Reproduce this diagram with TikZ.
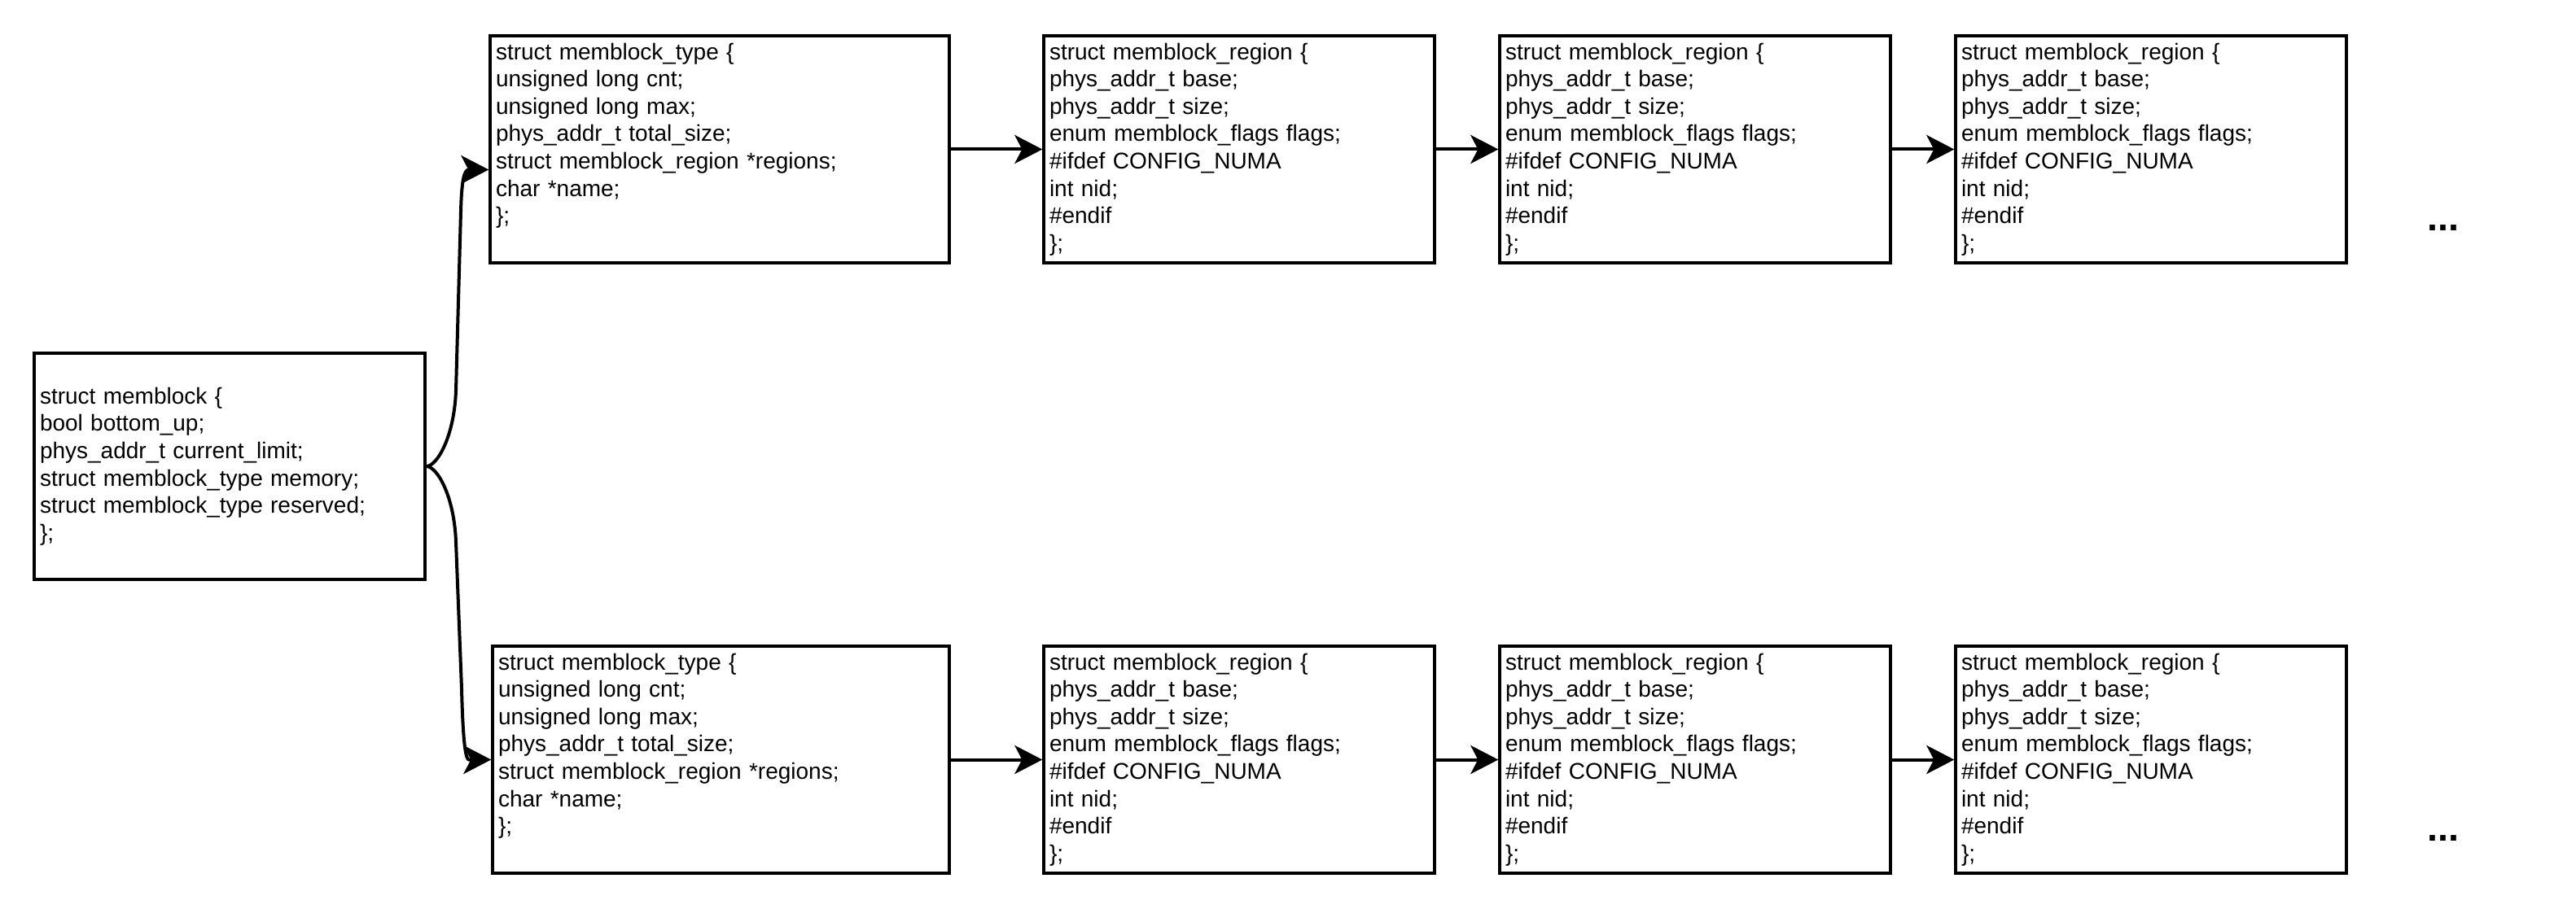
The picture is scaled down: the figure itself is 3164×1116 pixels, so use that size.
\documentclass[tikz,border=0pt]{standalone}
\usepackage{fontspec}
\setmainfont{Liberation Sans}
\usetikzlibrary{arrows.meta,calc}

\newcommand{\regionfields}{struct memblock\_region \{\\
phys\_addr\_t base;\\
phys\_addr\_t size;\\
enum memblock\_flags flags;\\
\#ifdef CONFIG\_NUMA\\
int nid;\\
\#endif\\
\};}

% last line left empty, as in the drawing
\newcommand{\typefields}{struct memblock\_type \{\\
unsigned long cnt;\\
unsigned long max;\\
phys\_addr\_t total\_size;\\
struct memblock\_region *regions;\\
char *name;\\
\};\\
\vphantom{\};}}

\begin{document}
\begin{tikzpicture}[x=0.5pt, y=0.5pt,
    structbox/.style={draw, line width=1.7pt, align=left, inner xsep=3.5pt, inner ysep=0pt,
        font=\fontsize{14pt}{16.8pt}\selectfont},
    mainbox/.style={structbox, minimum width=240pt, minimum height=139pt, text width=233pt},
    typebox/.style={structbox, minimum width=282pt, minimum height=139.5pt, text width=275pt},
    regbox/.style={structbox, minimum width=240pt, minimum height=139.5pt, text width=233pt},
    link/.style={line width=2pt, -{Stealth[length=17pt, width=17.5pt, inset=4.5pt]}},
    more/.style={font=\fontsize{23.4pt}{28pt}\selectfont\bfseries, inner sep=0pt, anchor=base}]

    \useasboundingbox (0,0) rectangle (3164,1116);

    % struct memblock
    \node[mainbox] (mb) at (282,543) {struct memblock \{\\
        bool bottom\_up;\\
        phys\_addr\_t current\_limit;\\
        struct memblock\_type memory;\\
        struct memblock\_type reserved;\\
        \};};

    % memory: type and its regions
    \node[typebox] (memtype) at (884,932.5) {\typefields};
    \node[regbox] (memreg1) at (1522,932.5) {\regionfields};
    \node[regbox] (memreg2) at (2082,932.5) {\regionfields};
    \node[regbox] (memreg3) at (2642,932.5) {\regionfields};
    \node[more] (memmore) at (3001,832.7) {...};

    % reserved: type and its regions
    \node[typebox, minimum width=280.5pt, text width=273.5pt] (restype) at (885.5,182.5) {\typefields};
    \node[regbox] (resreg1) at (1522,182.5) {\regionfields};
    \node[regbox] (resreg2) at (2082,182.5) {\regionfields};
    \node[regbox] (resreg3) at (2642,182.5) {\regionfields};
    \node[more] (resmore) at (3001,82.7) {...};

    % memblock -> memory / reserved
    \draw[link] (mb.east) .. controls (537,543) and (558,580) .. (560,636)
        -- (566,856) .. controls (567,895) and (570,907.5) .. (576,907.5)
        -- ($(memtype.west)+(0,-25)$);
    \draw[link] (mb.east) .. controls (537,543) and (558,506) .. (560,450)
        -- (567,270) .. controls (568,230) and (570,182.5) .. (576,182.5)
        -- (restype.west);

    % region chains
    \draw[link] (memtype.east) -- (memreg1.west);
    \draw[link] (memreg1.east) -- (memreg2.west);
    \draw[link] (memreg2.east) -- (memreg3.west);
    \draw[link] (restype.east) -- (resreg1.west);
    \draw[link] (resreg1.east) -- (resreg2.west);
    \draw[link] (resreg2.east) -- (resreg3.west);

\end{tikzpicture}
\end{document}
